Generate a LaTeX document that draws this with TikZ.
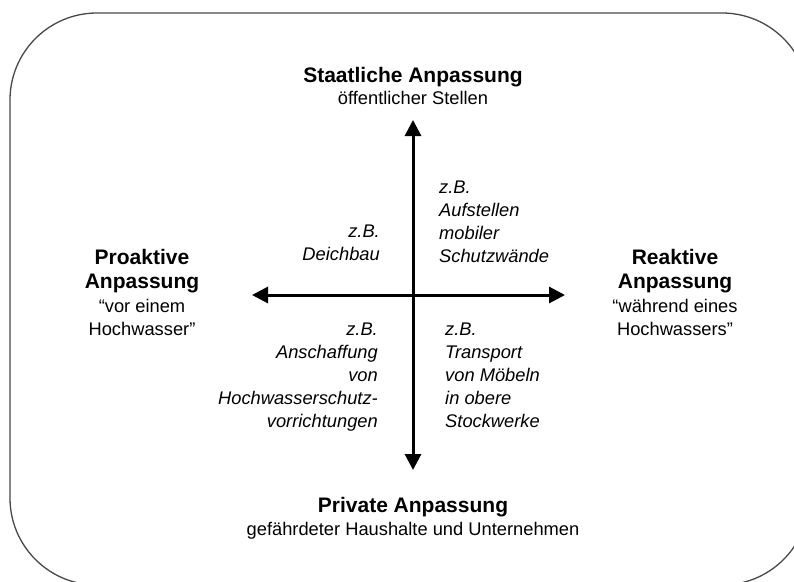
\documentclass[tikz,border=0pt]{standalone}
\usepackage{fontspec}
\setmainfont{Liberation Sans}
\usetikzlibrary{arrows.meta}
\begin{document}
\begin{tikzpicture}[x=1pt,y=-1pt,
  frame/.style={draw=black!72, line width=1.3pt, rounded corners=87pt},
  axis/.style={line width=3pt, {Triangle[length=16pt,width=16pt]}-{Triangle[length=16pt,width=16pt]}},
  head/.style={font=\fontsize{21}{24}\selectfont\bfseries, align=center, inner sep=0pt},
  sub/.style={font=\fontsize{18.3}{23}\selectfont, align=center, inner sep=0pt},
  ex/.style={font=\fontsize{18.3}{23}\selectfont\itshape, inner sep=0pt},
]
\useasboundingbox (0,0) rectangle (794,581);
% outer rounded frame, partly cut off at the right and bottom
\begin{scope}
  \clip (0,0) rectangle (794,581);
  \draw[frame] (10,13) rectangle (809,585);
\end{scope}

% axes
\coordinate (top) at (413,120);
\coordinate (bottom) at (413,470);
\coordinate (left) at (252,295);
\coordinate (right) at (565,295);
\draw[axis] (bottom) -- (top);
\draw[axis] (left) -- (right);

% axis labels (base anchor = baseline of the last line)
\node[head, anchor=base] (state) at (413,82) {Staatliche Anpassung};
\node[sub, anchor=base] (statesub) at (413,104) {öffentlicher Stellen};
\node[head, anchor=base] (priv) at (413,512) {Private Anpassung};
\node[sub, anchor=base] (privsub) at (413,535) {gefährdeter Haushalte und Unternehmen};

\node[head, anchor=base] (pro) at (142,288) {Proaktive\\Anpassung};
\node[sub, anchor=base] (prosub) at (142,335) {“vor einem\\Hochwasser”};
\node[head, anchor=base] (re) at (675,288) {Reaktive\\Anpassung};
\node[sub, anchor=base] (resub) at (675,335) {“während eines\\Hochwassers”};

% examples in the four quadrants
\node[ex, align=right, anchor=base east] (ul) at (380,260) {z.B.\\Deichbau};
\node[ex, align=left, anchor=base west] (ur) at (439,262) {z.B.\\Aufstellen\\mobiler\\Schutzwände};
\node[ex, align=right, anchor=base east] (ll) at (378,427) {z.B.\\Anschaffung\\von\\Hochwasserschutz-\\vorrichtungen};
\node[ex, align=left, anchor=base west] (lr) at (445,427) {z.B.\\Transport\\von Möbeln\\in obere\\Stockwerke};
\end{tikzpicture}
\end{document}
